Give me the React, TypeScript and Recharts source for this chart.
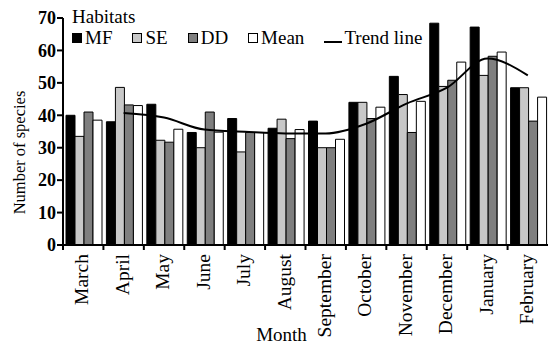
import { ComposedChart, Bar, Line, XAxis, YAxis, Legend, Label } from "recharts";

const months = ["March", "April", "May", "June", "July", "August", "September", "October", "November", "December", "January", "February"];
const mf = [40, 38, 43.4, 34.7, 39, 36, 38.2, 44, 52, 68.4, 67.2, 48.5];
const se = [33.5, 48.6, 32.3, 30, 28.7, 38.8, 30, 44, 46.4, 48.9, 52.3, 48.5];
const dd = [41, 43.2, 31.7, 41, 34.7, 32.8, 30, 39, 34.7, 50.8, 58.2, 38.2];
const mean = [38.5, 43, 35.7, 34.8, 34.7, 35.6, 32.6, 42.5, 44.3, 56.4, 59.5, 45.6];
const trend = [null, 40.7, 39.3, 35.6, 34.9, 34.4, 34.4, 37.4, 43.6, 48.5, 57.5, 52.3];
const yTicks = [0, 10, 20, 30, 40, 50, 60, 70];

const rows = months.map((m, i) => ({
  month: m,
  MF: mf[i],
  SE: se[i],
  DD: dd[i],
  Mean: mean[i],
  trend: trend[i],
}));

const FONT = "Liberation Serif";

const legendItems = [
  { name: "MF", fill: "#000000" },
  { name: "SE", fill: "#c8c8c8" },
  { name: "DD", fill: "#7f7f7f" },
  { name: "Mean", fill: "#ffffff" },
];

// month label + boundary tick mark (ticks sit between categories)
function MonthTick(props: any) {
  const { x, y, payload } = props;
  const half = payload.offset ?? 20.2;
  return (
    <g>
      <line x1={x - half} x2={x - half} y1={y - 9} y2={y - 3} stroke="#000" strokeWidth={2} />
      <text
        transform={`translate(${x - 1},${y + 1}) rotate(-90)`}
        textAnchor="end"
        dy="0.32em"
        style={{ fontFamily: FONT, fontSize: 19.5 }}
        fill="#000"
      >
        {payload.value}
      </text>
    </g>
  );
}

function YTick(props: any) {
  const { x, y, payload } = props;
  return (
    <text x={x} y={y} dy="0.35em" textAnchor="end" style={{ fontFamily: FONT, fontSize: 18, fontWeight: "bold" }} fill="#000">
      {payload.value}
    </text>
  );
}

function HabitatLegend() {
  return (
    <div style={{ fontFamily: FONT, fontSize: 19, color: "#000", lineHeight: "21px" }}>
      <div>Habitats</div>
      <div style={{ display: "flex", alignItems: "center", whiteSpace: "nowrap" }}>
        {legendItems.map((it) => (
          <span key={it.name} style={{ display: "flex", alignItems: "center", marginRight: 20 }}>
            <span style={{ width: 8, height: 8, background: it.fill, border: "1px solid #000", marginRight: 3 }} />
            {it.name}
          </span>
        ))}
        <span style={{ display: "flex", alignItems: "center" }}>
          <span style={{ width: 18, height: 2, background: "#000", marginRight: 2, marginTop: 8 }} />
          Trend line
        </span>
      </div>
    </div>
  );
}

export default function App() {
  return (
    <div style={{ position: "absolute", left: 0, top: 0, background: "#fff", fontFamily: FONT }}>
      <ComposedChart
        width={548}
        height={351}
        data={rows}
        margin={{ top: 18, right: 0, left: 0, bottom: 0 }}
        barCategoryGap={3}
        barGap={0}
        style={{ fontFamily: FONT }}
      >
        <XAxis
          dataKey="month"
          height={106}
          interval={0}
          axisLine={{ stroke: "#000", strokeWidth: 2 }}
          tickLine={false}
          tick={<MonthTick />}
        >
          <Label
            content={(p: any) => {
              const vb = p.viewBox;
              return (
                <text x={vb.x + vb.width / 2 - 24} y={vb.y + 96} textAnchor="middle" style={{ fontFamily: FONT, fontSize: 19 }} fill="#000">
                  Month
                </text>
              );
            }}
          />
        </XAxis>
        <YAxis
          width={63}
          domain={[0, 70]}
          ticks={yTicks}
          interval={0}
          axisLine={{ stroke: "#000", strokeWidth: 2 }}
          tickLine={{ stroke: "#000", strokeWidth: 2 }}
          tickSize={6}
          tickMargin={1}
          tick={<YTick />}
        >
          <Label
            content={(p: any) => {
              const vb = p.viewBox;
              const cx = 19;
              const cy = vb.y + vb.height / 2 + 21;
              return (
                <text
                  transform={`translate(${cx},${cy}) rotate(-90)`}
                  textAnchor="middle"
                  dy="0.35em"
                  style={{ fontFamily: FONT, fontSize: 16.5 }}
                  fill="#000"
                >
                  Number of species
                </text>
              );
            }}
          />
        </YAxis>
        <Legend
          layout="vertical"
          align="center"
          verticalAlign="middle"
          content={<HabitatLegend />}
          wrapperStyle={{ left: 72, top: 6, width: 420 }}
        />
        <Bar dataKey="MF" fill="#000000" stroke="#000" strokeWidth={1} isAnimationActive={false} />
        <Bar dataKey="SE" fill="#c8c8c8" stroke="#000" strokeWidth={1} isAnimationActive={false} />
        <Bar dataKey="DD" fill="#7f7f7f" stroke="#000" strokeWidth={1} isAnimationActive={false} />
        <Bar dataKey="Mean" fill="#ffffff" stroke="#000" strokeWidth={1} isAnimationActive={false} />
        <Line
          type="monotone"
          dataKey="trend"
          stroke="#000"
          strokeWidth={2}
          dot={false}
          connectNulls
          isAnimationActive={false}
        />
      </ComposedChart>
    </div>
  );
}
